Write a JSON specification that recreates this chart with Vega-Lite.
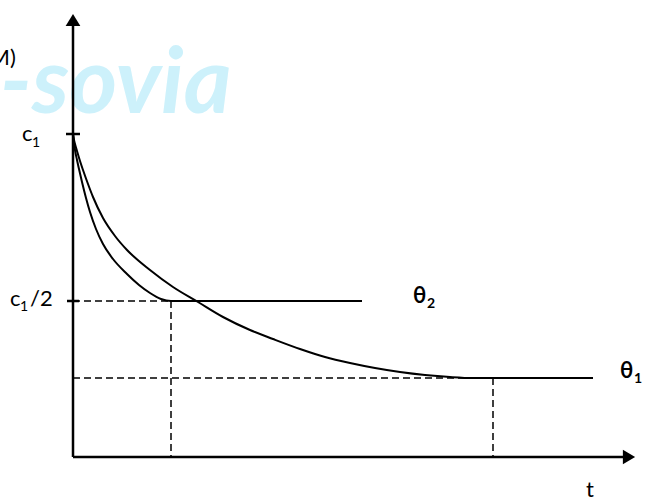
{
  "$schema": "https://vega.github.io/schema/vega-lite/v6.json",
  "width": 564,
  "height": 445,
  "autosize": {"type": "none"},
  "padding": {"left": 73, "top": 12, "right": 9, "bottom": 46},
  "background": "white",
  "config": {"view": {"stroke": null}},
  "datasets": {
    "curves": [
      {"series": "theta2", "x": 0, "y": 323},
      {"series": "theta2", "x": 1, "y": 314},
      {"series": "theta2", "x": 2, "y": 307},
      {"series": "theta2", "x": 4, "y": 297},
      {"series": "theta2", "x": 6, "y": 288},
      {"series": "theta2", "x": 9, "y": 275},
      {"series": "theta2", "x": 13, "y": 259},
      {"series": "theta2", "x": 17, "y": 245},
      {"series": "theta2", "x": 23, "y": 228},
      {"series": "theta2", "x": 30, "y": 213},
      {"series": "theta2", "x": 40, "y": 198},
      {"series": "theta2", "x": 54, "y": 183},
      {"series": "theta2", "x": 66, "y": 172},
      {"series": "theta2", "x": 77, "y": 164},
      {"series": "theta2", "x": 88, "y": 158},
      {"series": "theta2", "x": 98, "y": 156},
      {"series": "theta2", "x": 289, "y": 156},
      {"series": "theta1", "x": 0, "y": 323},
      {"series": "theta1", "x": 1, "y": 317},
      {"series": "theta1", "x": 2, "y": 313},
      {"series": "theta1", "x": 4, "y": 306},
      {"series": "theta1", "x": 7, "y": 296},
      {"series": "theta1", "x": 10, "y": 287},
      {"series": "theta1", "x": 15, "y": 273},
      {"series": "theta1", "x": 20, "y": 260},
      {"series": "theta1", "x": 30, "y": 239},
      {"series": "theta1", "x": 42, "y": 221},
      {"series": "theta1", "x": 54, "y": 207},
      {"series": "theta1", "x": 77, "y": 187},
      {"series": "theta1", "x": 100, "y": 170},
      {"series": "theta1", "x": 125, "y": 155},
      {"series": "theta1", "x": 150, "y": 140},
      {"series": "theta1", "x": 177, "y": 127},
      {"series": "theta1", "x": 200, "y": 118},
      {"series": "theta1", "x": 227, "y": 108},
      {"series": "theta1", "x": 252, "y": 100},
      {"series": "theta1", "x": 277, "y": 94},
      {"series": "theta1", "x": 302, "y": 89},
      {"series": "theta1", "x": 327, "y": 85},
      {"series": "theta1", "x": 352, "y": 82},
      {"series": "theta1", "x": 377, "y": 80},
      {"series": "theta1", "x": 400, "y": 79},
      {"series": "theta1", "x": 420, "y": 79},
      {"series": "theta1", "x": 520, "y": 79}
    ],
    "segments": [
      {"kind": "axis", "x": 0, "y": 0, "x2": 0, "y2": 436},
      {"kind": "axis", "x": 0, "y": 0, "x2": 554, "y2": 0},
      {"kind": "tick", "x": -7, "y": 323, "x2": 7, "y2": 323},
      {"kind": "tick", "x": -6, "y": 156, "x2": 6, "y2": 156},
      {"kind": "dash", "x": 0, "y": 156, "x2": 98, "y2": 156},
      {"kind": "dash", "x": 98, "y": 156, "x2": 98, "y2": 0},
      {"kind": "dash", "x": 0, "y": 79, "x2": 420, "y2": 79},
      {"kind": "dash", "x": 420, "y": 79, "x2": 420, "y2": 0}
    ],
    "arrows": [
      {"dir": "up", "x": 0, "y": 437},
      {"dir": "right", "x": 556, "y": 0}
    ],
    "labels": [
      {"role": "main", "label": "C(M)", "x": -104, "y": 392},
      {"role": "main", "label": "c", "x": -51, "y": 316},
      {"role": "sub", "label": "1", "x": -41, "y": 310},
      {"role": "main", "label": "c", "x": -63, "y": 151},
      {"role": "sub", "label": "1", "x": -53, "y": 146},
      {"role": "main", "label": "/2", "x": -43, "y": 151},
      {"role": "main", "label": "t", "x": 513, "y": -40},
      {"role": "bmain", "label": "θ", "x": 340, "y": 154},
      {"role": "bsub", "label": "2", "x": 354, "y": 149},
      {"role": "bmain", "label": "θ", "x": 547, "y": 79},
      {"role": "bsub", "label": "1", "x": 561, "y": 74}
    ],
    "watermark": [
      {"label": "-sovia", "x": -73, "y": 344}
    ]
  },
  "encoding": {},
  "layer": [
    {
      "data": {"name": "watermark"},
      "mark": {"type": "text", "align": "left", "baseline": "alphabetic", "font": "Lato", "fontStyle": "italic", "fontWeight": "bold", "fontSize": 92, "color": "#cdf1fb", "clip": false},
      "encoding": {
        "x": {"field": "x", "type": "quantitative", "scale": {"domain": [0, 564]}, "axis": null},
        "y": {"field": "y", "type": "quantitative", "scale": {"domain": [0, 445]}, "axis": null},
        "text": {"field": "label"}
      }
    },
    {
      "data": {"name": "segments"},
      "transform": [{"filter": "datum.kind === 'dash'"}],
      "mark": {"type": "rule", "color": "black", "strokeWidth": 1.5, "strokeDash": [7, 4], "clip": false},
      "encoding": {
        "x": {"field": "x", "type": "quantitative", "scale": {"domain": [0, 564]}, "axis": null},
        "y": {"field": "y", "type": "quantitative", "scale": {"domain": [0, 445]}, "axis": null},
        "x2": {"field": "x2"},
        "y2": {"field": "y2"}
      }
    },
    {
      "data": {"name": "curves"},
      "mark": {"type": "line", "color": "black", "strokeWidth": 2, "interpolate": "monotone", "clip": false},
      "encoding": {
        "x": {"field": "x", "type": "quantitative", "scale": {"domain": [0, 564]}, "axis": null},
        "y": {"field": "y", "type": "quantitative", "scale": {"domain": [0, 445]}, "axis": null},
        "detail": {"field": "series"},
        "order": {"field": "x", "type": "quantitative"}
      }
    },
    {
      "data": {"name": "segments"},
      "transform": [{"filter": "datum.kind !== 'dash'"}],
      "mark": {"type": "rule", "color": "black", "strokeWidth": 2.5, "clip": false},
      "encoding": {
        "x": {"field": "x", "type": "quantitative", "scale": {"domain": [0, 564]}, "axis": null},
        "y": {"field": "y", "type": "quantitative", "scale": {"domain": [0, 445]}, "axis": null},
        "x2": {"field": "x2"},
        "y2": {"field": "y2"}
      }
    },
    {
      "data": {"name": "arrows"},
      "transform": [{"filter": "datum.dir === 'up'"}],
      "mark": {"type": "point", "shape": "M-0.6,0.5L0,-0.5L0.6,0.5Z", "filled": true, "color": "black", "opacity": 1, "size": 600, "clip": false},
      "encoding": {
        "x": {"field": "x", "type": "quantitative", "scale": {"domain": [0, 564]}, "axis": null},
        "y": {"field": "y", "type": "quantitative", "scale": {"domain": [0, 445]}, "axis": null}
      }
    },
    {
      "data": {"name": "arrows"},
      "transform": [{"filter": "datum.dir === 'right'"}],
      "mark": {"type": "point", "shape": "M-0.5,-0.6L0.5,0L-0.5,0.6Z", "filled": true, "color": "black", "opacity": 1, "size": 600, "clip": false},
      "encoding": {
        "x": {"field": "x", "type": "quantitative", "scale": {"domain": [0, 564]}, "axis": null},
        "y": {"field": "y", "type": "quantitative", "scale": {"domain": [0, 445]}, "axis": null}
      }
    },
    {
      "data": {"name": "labels"},
      "transform": [{"filter": "datum.role === 'main'"}],
      "mark": {"type": "text", "align": "left", "baseline": "alphabetic", "font": "Lato", "fontSize": 22, "color": "black", "clip": false},
      "encoding": {
        "x": {"field": "x", "type": "quantitative", "scale": {"domain": [0, 564]}, "axis": null},
        "y": {"field": "y", "type": "quantitative", "scale": {"domain": [0, 445]}, "axis": null},
        "text": {"field": "label"}
      }
    },
    {
      "data": {"name": "labels"},
      "transform": [{"filter": "datum.role === 'sub'"}],
      "mark": {"type": "text", "align": "left", "baseline": "alphabetic", "font": "Lato", "fontSize": 14, "color": "black", "clip": false},
      "encoding": {
        "x": {"field": "x", "type": "quantitative", "scale": {"domain": [0, 564]}, "axis": null},
        "y": {"field": "y", "type": "quantitative", "scale": {"domain": [0, 445]}, "axis": null},
        "text": {"field": "label"}
      }
    },
    {
      "data": {"name": "labels"},
      "transform": [{"filter": "datum.role === 'bmain'"}],
      "mark": {"type": "text", "align": "left", "baseline": "alphabetic", "font": "Lato", "fontWeight": "bold", "fontSize": 22, "color": "black", "clip": false},
      "encoding": {
        "x": {"field": "x", "type": "quantitative", "scale": {"domain": [0, 564]}, "axis": null},
        "y": {"field": "y", "type": "quantitative", "scale": {"domain": [0, 445]}, "axis": null},
        "text": {"field": "label"}
      }
    },
    {
      "data": {"name": "labels"},
      "transform": [{"filter": "datum.role === 'bsub'"}],
      "mark": {"type": "text", "align": "left", "baseline": "alphabetic", "font": "Lato", "fontWeight": "bold", "fontSize": 14, "color": "black", "clip": false},
      "encoding": {
        "x": {"field": "x", "type": "quantitative", "scale": {"domain": [0, 564]}, "axis": null},
        "y": {"field": "y", "type": "quantitative", "scale": {"domain": [0, 445]}, "axis": null},
        "text": {"field": "label"}
      }
    }
  ]
}
